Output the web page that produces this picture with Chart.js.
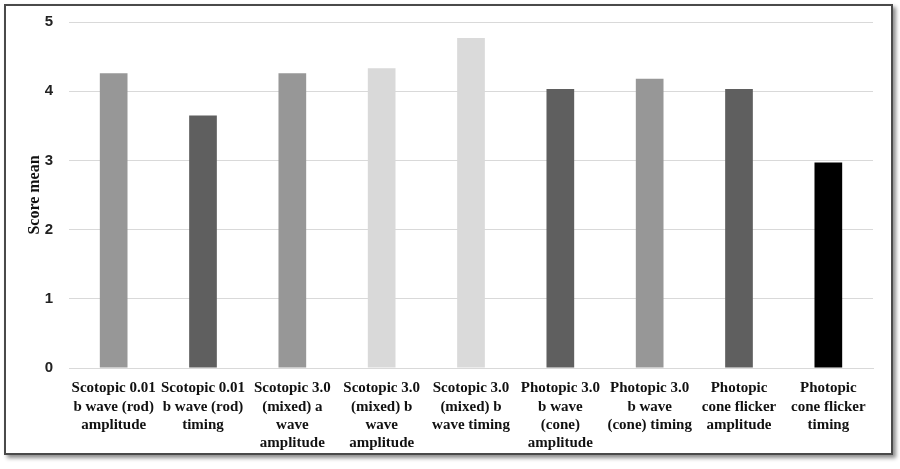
<!DOCTYPE html>
<html>
<head>
<meta charset="utf-8">
<script src="https://cdn.jsdelivr.net/npm/chart.js@4.4.0/dist/chart.umd.min.js"></script>
<style>
    body { margin: 0; background: #fff; }
    #frame {
        position: absolute; left: 4px; top: 4px;
        width: 885px; height: 447px;
        border: 2px solid #4a4a4a;
        box-shadow: 3px 3px 4px rgba(0,0,0,0.45);
        background: #fff;
    }
    #scoreChart { display: block; }
</style>
</head>
<body>
<div id="frame"><canvas id="scoreChart" width="885" height="447"></canvas></div>
<script>
// x labels, one array per category (already wrapped like the original)
const categories = [
    ['Scotopic 0.01', 'b wave (rod)', 'amplitude'],
    ['Scotopic 0.01', 'b wave (rod)', 'timing'],
    ['Scotopic 3.0', '(mixed) a', 'wave', 'amplitude'],
    ['Scotopic 3.0', '(mixed) b', 'wave', 'amplitude'],
    ['Scotopic 3.0', '(mixed) b', 'wave timing'],
    ['Photopic 3.0', 'b wave', '(cone)', 'amplitude'],
    ['Photopic 3.0', 'b wave', '(cone) timing'],
    ['Photopic', 'cone flicker', 'amplitude'],
    ['Photopic', 'cone flicker', 'timing']
];
const scoreMeans = [4.26, 3.65, 4.26, 4.33, 4.77, 4.03, 4.18, 4.03, 2.97];
const barColors = ['#979797', '#5f5f5f', '#979797', '#d9d9d9', '#dadada', '#5f5f5f', '#979797', '#5f5f5f', '#000000'];
const yTicks = [0, 1, 2, 3, 4, 5];

const ctx = document.getElementById('scoreChart').getContext('2d');
const scoreChart = new Chart(ctx, {
    type: 'bar',
    data: {
        labels: categories,
        datasets: [{
            data: scoreMeans,
            backgroundColor: barColors,
            borderWidth: 0,
            barPercentage: 0.31,
            categoryPercentage: 1.0
        }]
    },
    options: {
        responsive: false,
        animation: false,
        layout: { padding: { top: 16, right: 18, bottom: 0, left: 0 } },
        plugins: {
            legend: { display: false },
            tooltip: { enabled: false }
        },
        scales: {
            x: {
                grid: { display: false, drawTicks: false },
                border: { display: true, color: '#d9d9d9', width: 1 },
                ticks: {
                    color: '#111',
                    padding: 11,
                    maxRotation: 0,
                    autoSkip: false,
                    font: { family: '"Liberation Serif", "Times New Roman", serif', size: 15, weight: 'bold', lineHeight: 1.23 }
                },
                afterFit: (scale) => {
                    scale.height = 85;
                    scale.paddingLeft = 0;
                    scale.paddingRight = 0;
                }
            },
            y: {
                min: 0,
                max: 5,
                afterBuildTicks: (scale) => { scale.ticks = yTicks.map(v => ({ value: v })); },
                grid: { color: '#d9d9d9', lineWidth: 1, drawTicks: false },
                border: { display: false },
                ticks: {
                    color: '#222',
                    padding: 16,
                    font: { family: '"Liberation Sans", Arial, sans-serif', size: 15, weight: 'bold' }
                },
                title: {
                    display: true,
                    text: 'Score mean',
                    color: '#111',
                    padding: { top: 19, bottom: 0 },
                    font: { family: '"Liberation Serif", "Times New Roman", serif', size: 16, weight: 'bold' }
                },
                afterFit: (scale) => {
                    scale.width = 63;
                    scale.paddingTop = 0;
                    scale.paddingBottom = 0;
                }
            }
        }
    }
});
</script>
</body>
</html>
